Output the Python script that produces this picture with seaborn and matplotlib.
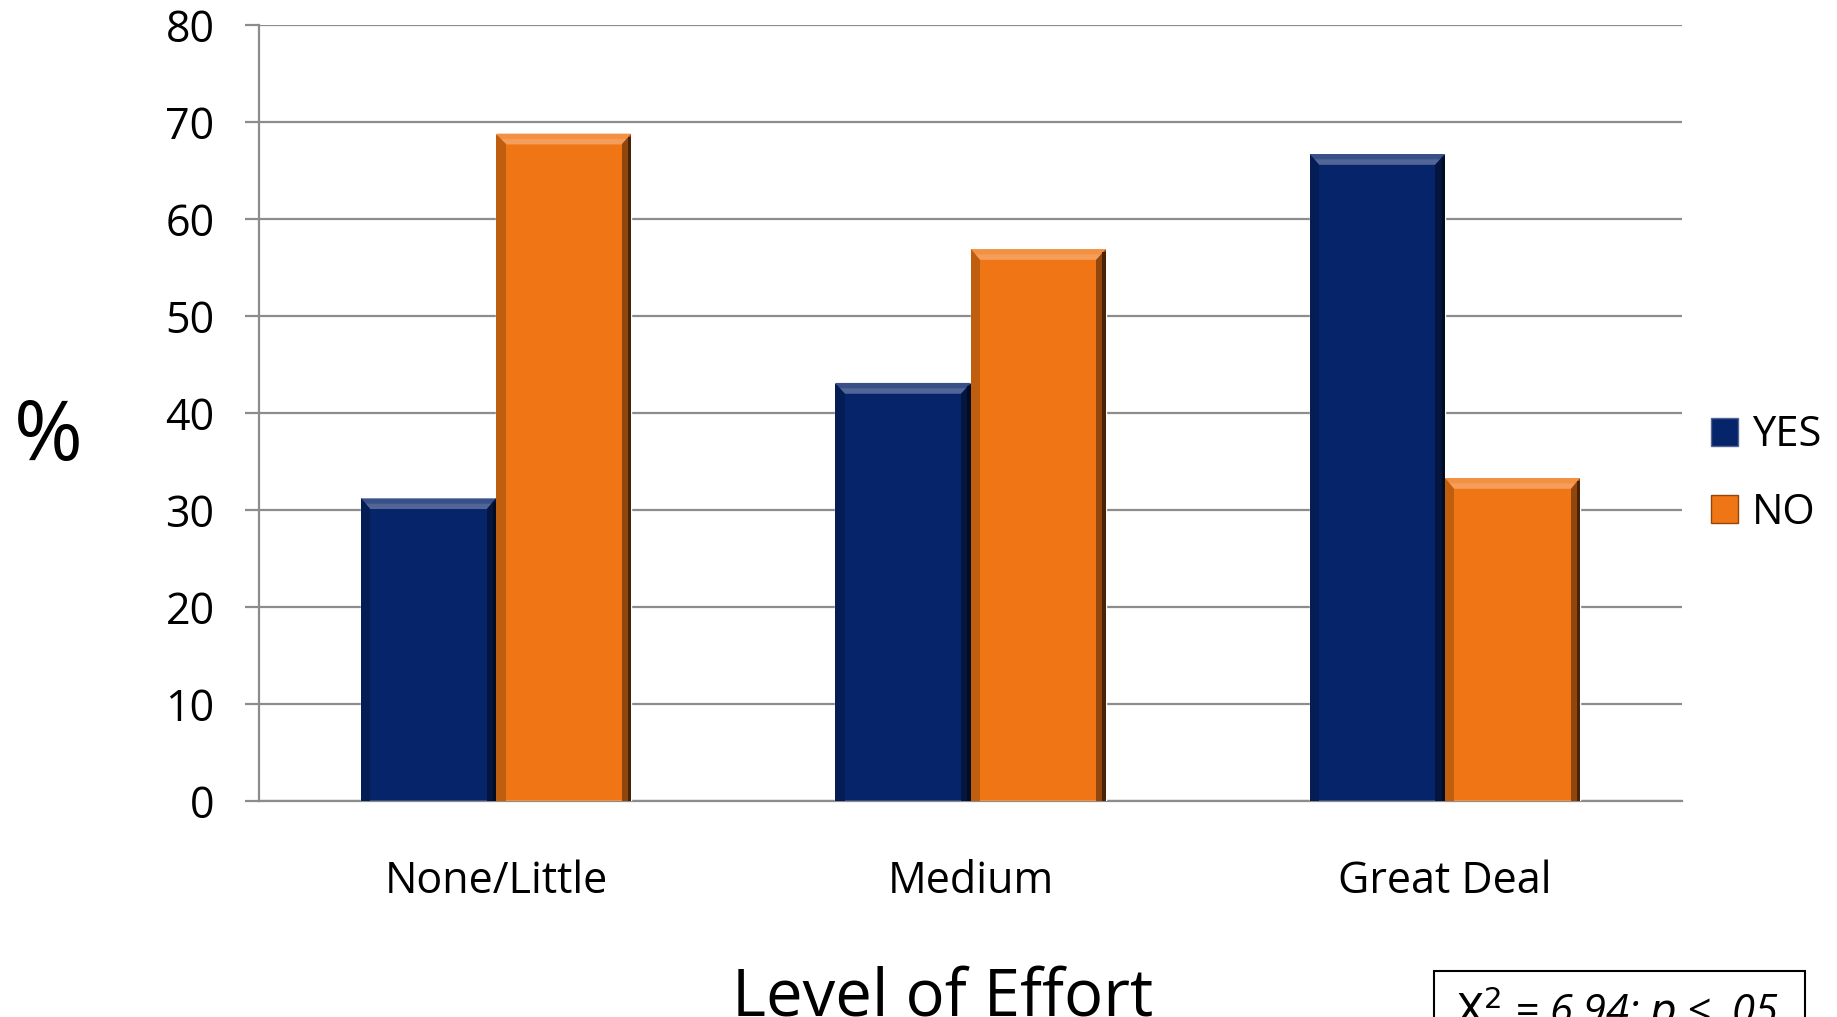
import matplotlib
matplotlib.use("Agg")
import matplotlib.pyplot as plt
import matplotlib.patches as mpatches
import numpy as np
import pandas as pd
import seaborn as sns

# Survey results: share of respondents (%) by level of effort
levels = ["None/Little", "Medium", "Great Deal"]
yes_pct = [31.2, 43.1, 66.7]
no_pct = [68.8, 56.9, 33.3]
responses = ["YES", "NO"]
y_ticks = [0, 10, 20, 30, 40, 50, 60, 70, 80]
stat_text = "$\\mathit{Χ}^2$ = 6.94; $\\mathit{p}$ < .05"

NAVY = "#06246A"
ORANGE = "#F07514"
GRID = "#8C8C8C"

df = pd.DataFrame({
    "Level": levels * 2,
    "Pct": yes_pct + no_pct,
    "Response": ["YES"] * 3 + ["NO"] * 3,
})

sns.set_theme(style="white")
plt.rcParams["font.family"] = ["Open Sans", "DejaVu Sans"]
plt.rcParams["text.color"] = "black"
plt.rcParams["xtick.labelcolor"] = "black"
plt.rcParams["ytick.labelcolor"] = "black"

W, H = 1837, 1017
fig = plt.figure(figsize=(W / 100, H / 100), dpi=100)
ax = fig.add_axes([259 / W, 1 - 801 / H, (1682 - 259) / W, (801 - 25) / H])

sns.barplot(data=df, x="Level", y="Pct", hue="Response", order=levels,
            hue_order=responses, palette=[NAVY, ORANGE], saturation=1,
            width=0.57, gap=0, ax=ax, legend=False, zorder=3)

ax.set_xlim(-0.5, 2.5)
ax.set_ylim(0, 80)
ax.set_yticks(y_ticks)
ax.set_yticklabels([str(t) for t in y_ticks])
ax.yaxis.grid(True, color=GRID, lw=1.6, zorder=0)
ax.set_axisbelow(True)
ax.set_xlabel("")
ax.set_ylabel("")

# category boundary ticks on the x axis
ax.set_xticks([-0.5, 0.5, 1.5, 2.5], minor=True)
ax.tick_params(axis="x", which="major", length=0, pad=42, labelsize=31,
               labelcolor="black")
ax.tick_params(axis="x", which="minor", length=10, width=1.6, color=GRID,
               direction="out")
ax.tick_params(axis="y", length=10, width=1.6, color=GRID, direction="out",
               pad=22, labelsize=31, left=True, labelcolor="black")
for side in ["top", "right"]:
    ax.spines[side].set_visible(False)
for side in ["left", "bottom"]:
    ax.spines[side].set_color(GRID)
    ax.spines[side].set_linewidth(1.6)


def shade(color, f):
    c = np.array(matplotlib.colors.to_rgb(color))
    if f >= 0:
        return tuple(c + (1 - c) * f)
    return tuple(c * (1 + f))


# bevelled look on each bar, derived from the bar geometry
for patch in list(ax.patches):
    x0, y0 = patch.get_x(), patch.get_y()
    w, h = patch.get_width(), patch.get_height()
    if h <= 0:
        continue
    base = patch.get_facecolor()
    x1, y1 = x0 + w, y0 + h
    bx = w * 0.07
    by = 1.1
    top = mpatches.Polygon([(x0, y1), (x1, y1), (x1 - bx, y1 - by), (x0 + bx, y1 - by)],
                           closed=True, fc=shade(base, 0.2), ec="none", zorder=4)
    top_hi = mpatches.Polygon([(x0 + bx * 0.5, y1 - by * 0.5), (x1 - bx * 0.5, y1 - by * 0.5),
                               (x1 - bx, y1 - by), (x0 + bx, y1 - by)],
                              closed=True, fc=shade(base, 0.3), ec="none", zorder=4)
    right = mpatches.Polygon([(x1, y1), (x1, y0), (x1 - bx, y0), (x1 - bx, y1 - by)],
                             closed=True, fc=shade(base, -0.4), ec="none", zorder=4)
    right_edge = mpatches.Rectangle((x1 - bx * 0.35, y0), bx * 0.35, h - by * 0.3,
                                    fc=shade(base, -0.7), ec="none", zorder=4)
    left = mpatches.Polygon([(x0, y1), (x0, y0), (x0 + bx, y0), (x0 + bx, y1 - by)],
                            closed=True, fc=shade(base, -0.2), ec="none", zorder=4)
    for p in (top, top_hi, right, left, right_edge):
        ax.add_patch(p)

# legend
handles = [mpatches.Patch(fc=NAVY, ec=shade(NAVY, 0.3), lw=1.0, label="YES"),
           mpatches.Patch(fc=ORANGE, ec=shade(ORANGE, -0.4), lw=1.0, label="NO")]
fig.legend(handles=handles, loc="center left", bbox_to_anchor=(1694 / W, 1 - 474 / H),
           frameon=False, fontsize=30, handlelength=0.65, handleheight=0.65,
           handletextpad=0.35, labelspacing=0.85, borderaxespad=0)

# axis titles
fig.text(48 / W, 1 - 439 / H, "%", fontsize=60, ha="center", va="center")
fig.text(943 / W, 1 - 998 / H, "Level of Effort", fontsize=47, ha="center",
         va="center")

# statistic box at the lower right
fig.add_artist(mpatches.Rectangle((1434 / W, -0.05), (1805 - 1434) / W,
                                  0.05 + 1 - 971 / H, transform=fig.transFigure,
                                  fill=False, ec="black", lw=1.5))
fig.text(1617 / W, 1 - 1010 / H, stat_text, fontsize=30, style="italic",
         ha="center", va="center")

fig.savefig("out.png", dpi=100)
